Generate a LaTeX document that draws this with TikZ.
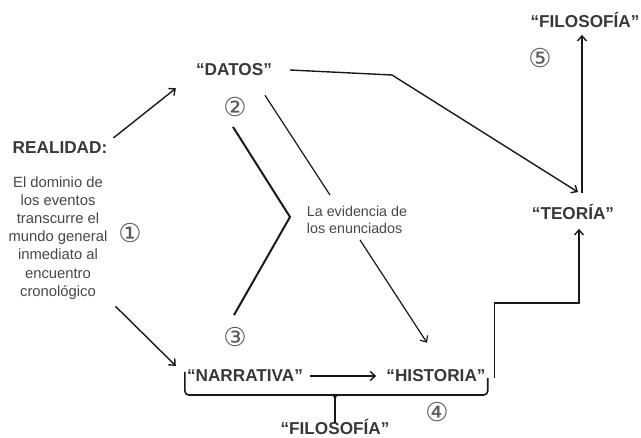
\documentclass[tikz,border=0pt]{standalone}
\usepackage{fontspec}
\setmainfont{Liberation Sans}
\newfontfamily\circulos{DejaVu Sans}
\usetikzlibrary{arrows.meta}
\begin{document}
\begin{tikzpicture}[x=1pt,y=-1pt]
	% Estilos
	\tikzstyle{flecha}=[->,>={Straight Barb[length=5pt,width=9pt]},line width=1.4pt,black!90]
	\tikzstyle{trazo}=[-,line width=2pt,black!90]
	\tikzstyle{fino}=[-,line width=1.2pt,black!90]
	\tikzstyle{llave}=[-,line width=1.6pt,black!90,rounded corners=4pt]
	\tikzstyle{concepto}=[inner sep=1pt,text=black!78,font=\fontsize{17.2}{18}\selectfont\bfseries]
	\tikzstyle{texto}=[inner sep=1pt,text=black!72,align=center,font=\fontsize{14.8}{18.1}\selectfont]
	\tikzstyle{numero}=[inner sep=0pt,text=black!65,font=\fontsize{26}{26}\circulos]
	\useasboundingbox (0,0) rectangle (641,438);
	% Nodos
	\node[concepto] (filoA) at (585,20) {“FILOSOFÍA”};
	\node[concepto] (teoria) at (573,212) {“TEORÍA”};
	\node[concepto] (datos) at (234,70) {“DATOS”};
	\node[concepto] (realidad) at (60,148) {REALIDAD:};
	\node[texto] (dominio) at (58,238) {El dominio de\\los eventos\\transcurre el\\mundo general\\inmediato al\\encuentro\\cronológico};
	\node[texto,align=left,font=\fontsize{14.3}{17}\selectfont] (evidencia) at (357,220) {La evidencia de\\los enunciados};
	\node[concepto] (narrativa) at (245,376) {“NARRATIVA”};
	\node[concepto] (historia) at (436,376) {“HISTORIA”};
	\node[concepto] (filoB) at (335,427) {“FILOSOFÍA”};
	%
	\node[numero] (uno) at (130,233) {①};
	\node[numero] (dos) at (235,107) {②};
	\node[numero] (tres) at (235,337) {③};
	\node[numero] (cuatro) at (437,412) {④};
	\node[numero] (cinco) at (540,58) {⑤};
	%
	\coordinate (quiebre) at (392,75);
	\coordinate (punta) at (290,217);
	% Arcos
	\draw[flecha] ([shift={(5,-3)}]realidad.north east) -- ([shift={(-19,11)}]datos.south west);
	\draw[flecha] ([shift={(7,6)}]dominio.south east) -- ([shift={(-10,-3)}]narrativa.north west);
	\draw[flecha] ([xshift=17]datos.east) -- (quiebre) -- ([shift={(5,-11)}]teoria.north);
	\draw[flecha] ([shift={(9,-10)}]teoria.north) -- ([shift={(-3,6)}]filoA.south);
	\draw[flecha] ([shift={(8,2)}]historia.east) -- ++(0,-75) -| ([shift={(6,8)}]teoria.south);
	\draw[flecha,shorten <=6pt,shorten >=9pt] (narrativa.east) -- (historia.west);
	\draw[trazo] ([shift={(-2,10)}]dos.south) -- (punta) -- ([shift={(-1,-12)}]tres.north);
	\draw[fino] ([shift={(31,18)}]datos.south) -- ([shift={(-27,-10)}]evidencia.north);
	\draw[flecha,line width=1.2pt] ([shift={(3,5)}]evidencia.south) -- ([shift={(-9,-26)}]historia.north);
	% Llave
	\draw[llave] ([shift={(-1,-4)}]narrativa.west) -- ++(0,23) -- ([shift={(1,19)}]historia.east) -- ([shift={(1,2)}]historia.east);
	\draw[llave,rounded corners=0pt] ([shift={(-5,19)}]narrativa.west -| filoB.north) .. controls ([shift={(-1,19)}]narrativa.west -| filoB.north) .. ([shift={(0,23)}]narrativa.west -| filoB.north) .. controls ([shift={(1,19)}]narrativa.west -| filoB.north) .. ([shift={(5,19)}]narrativa.west -| filoB.north);
	\draw[llave] ([shift={(0,22)}]narrativa.west -| filoB.north) -- ([yshift=-5]filoB.north);
\end{tikzpicture}
\end{document}
